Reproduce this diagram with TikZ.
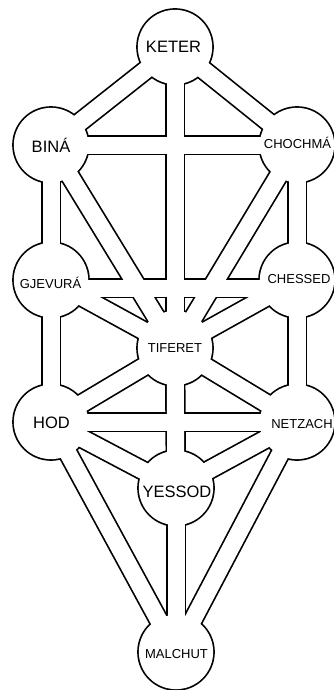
\documentclass[tikz,border=0pt]{standalone}
\usepackage{fontspec}
\setmainfont{Liberation Sans}
\usetikzlibrary{calc}

\tikzset{
    path outer/.style={line width=20.4pt, black},
    path inner/.style={line width=17pt, white},
    sefira text/.style={font=\fontsize{13}{13}\selectfont, anchor=base, inner sep=0pt},
    sefira big/.style={sefira text, font=\fontsize{16.5}{16.5}\selectfont},
}

\begin{document}
\begin{tikzpicture}[x=1pt,y=-1pt]
    \useasboundingbox (0,0) rectangle (333,690);
    \def\r{38}          % radius of a sefira
    \def\lw{1.7}        % outline width
    % Place the ten sefirot
    \coordinate (keter)   at (175,47);
    \coordinate (bina)    at (51,145);
    \coordinate (chochma) at (297,145);
    \coordinate (gjevura) at (51,280);
    \coordinate (chessed) at (297,280);
    \coordinate (tiferet) at (175,348);
    \coordinate (hod)     at (51,422);
    \coordinate (netzach) at (297,422);
    \coordinate (yessod)  at (176,488);
    \coordinate (malchut) at (176,652);
    \def\paths{keter/bina, keter/chochma, keter/tiferet, bina/chochma, bina/gjevura,
        chochma/chessed, bina/tiferet, chochma/tiferet, gjevura/tiferet, chessed/tiferet,
        gjevura/hod, chessed/netzach, hod/netzach, hod/tiferet, netzach/tiferet,
        tiferet/yessod, hod/yessod, netzach/yessod, hod/malchut, netzach/malchut, yessod/malchut}
    \def\sefirot{keter, bina, chochma, gjevura, chessed, tiferet, hod, netzach, yessod, malchut}
    % Draw the black outlines of paths and sefirot
    \foreach \a/\b in \paths
        \draw[path outer] (\a) -- (\b);
    \draw[path outer] ($(gjevura)+(0,8)$) -- ($(chessed)+(0,8)$);
    \foreach \s in \sefirot
        \fill[black] (\s) circle ({\r+\lw/2});
    % Hollow them out
    \foreach \a/\b in \paths
        \draw[path inner] (\a) -- (\b);
    \draw[path inner] ($(gjevura)+(0,8)$) -- ($(chessed)+(0,8)$);
    \foreach \s in \sefirot
        \fill[white] (\s) circle ({\r-\lw/2});
    % Names of the sefirot
    \node[sefira big]  (keter name)   at (173.5,53) {KETER};
    \node[sefira big]  (bina name)    at (51,152)   {BINÁ};
    \node[sefira text] (chochma name) at (297.5,148) {CHOCHMÁ};
    \node[sefira text] (gjevura name) at (50.5,288) {GJEVURÁ};
    \node[sefira text] (chessed name) at (299,283)  {CHESSED};
    \node[sefira text] (tiferet name) at (175,352)  {TIFERET};
    \node[sefira big]  (hod name)     at (51.5,428) {HOD};
    \node[sefira text] (netzach name) at (302,428)  {NETZACH};
    \node[sefira big]  (yessod name)  at (177,497)  {YESSOD};
    \node[sefira text] (malchut name) at (176.5,658) {MALCHUT};
\end{tikzpicture}
\end{document}
